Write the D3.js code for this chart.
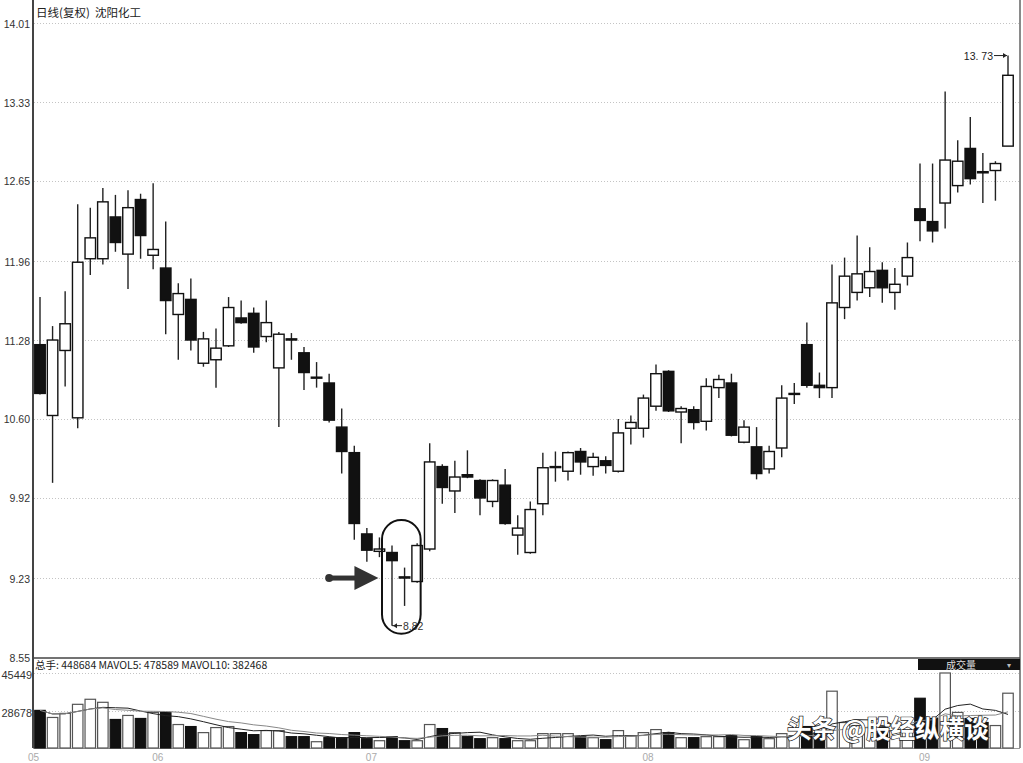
<!DOCTYPE html>
<html><head><meta charset="utf-8">
<script src="https://cdn.jsdelivr.net/npm/d3@7"></script>
<style>body{margin:0;background:#fff;} svg{display:block;}</style>
</head><body>
<svg id="c" width="1023" height="763"></svg>
<script>
// ---------- data ----------
const opens = [11.24,10.63,11.19,10.61,11.98,11.98,12.34,12.02,12.49,12.01,
11.90,11.50,11.63,11.08,11.11,11.23,11.47,11.51,11.31,11.04,
11.29,11.17,10.96,10.91,10.53,10.31,9.61,9.46,9.45,9.24,
9.20,9.48,10.19,9.98,10.12,10.07,9.89,10.03,9.60,9.45,
9.87,10.19,10.15,10.32,10.19,10.24,10.15,10.52,10.52,10.71,
11.01,10.66,10.68,10.58,10.87,10.91,10.40,10.36,10.17,10.35,
10.82,11.24,10.89,10.87,11.56,11.69,11.73,11.88,11.69,11.83,
12.41,12.30,12.46,12.61,12.93,12.73,12.74,12.95];
const closes = [10.82,11.28,11.42,11.95,12.16,12.47,12.12,12.42,12.18,12.06,
11.62,11.68,11.28,11.29,11.21,11.56,11.43,11.22,11.43,11.33,
11.28,11.00,10.96,10.59,10.32,9.70,9.47,9.48,9.38,9.23,
9.51,10.23,10.01,10.10,10.10,9.92,10.07,9.70,9.66,9.82,
10.18,10.19,10.31,10.23,10.27,10.20,10.48,10.57,10.78,10.99,
10.67,10.69,10.57,10.88,10.94,10.46,10.53,10.13,10.32,10.78,
10.82,10.89,10.87,11.60,11.83,11.85,11.87,11.73,11.76,11.99,
12.31,12.22,12.83,12.82,12.67,12.72,12.80,13.56];
const highs = [11.65,11.40,11.70,12.45,12.42,12.59,12.53,12.57,12.54,12.63,
12.30,11.77,11.81,11.35,11.38,11.65,11.62,11.56,11.62,11.35,
11.34,11.22,11.09,10.99,10.69,10.37,9.66,9.58,9.51,9.32,
9.53,10.39,10.21,10.24,10.33,10.08,10.08,10.17,9.77,9.89,
10.31,10.32,10.32,10.35,10.31,10.28,10.60,10.63,10.81,11.07,
11.02,10.71,10.71,10.95,10.98,10.99,10.59,10.53,10.37,10.89,
10.91,11.43,11.00,11.93,11.99,12.18,12.08,11.95,11.90,12.12,
12.80,12.80,13.42,13.00,13.20,12.89,12.82,13.73];
const lows = [10.81,10.05,10.88,10.52,11.84,11.93,12.04,11.72,11.98,11.89,
11.33,11.11,11.19,11.05,10.87,11.22,11.42,11.17,11.26,10.53,
11.11,10.85,10.87,10.57,10.13,9.56,9.37,9.41,8.82,8.99,
9.19,9.46,9.87,9.79,10.09,9.77,9.84,9.69,9.43,9.44,
9.77,10.06,10.07,10.12,10.11,10.13,10.14,10.38,10.44,10.67,
10.66,10.39,10.51,10.50,10.78,10.45,10.39,10.08,10.13,10.27,
10.73,10.87,10.78,10.78,11.46,11.62,11.65,11.60,11.54,11.75,
12.13,12.12,12.24,12.55,12.62,12.46,12.48,12.95];
const volumes = [28948,25826,27610,31624,33854,32516,24934,26718,25380,28056,
28056,22704,21812,19136,21366,21812,19136,18244,20028,20028,
17352,17352,15122,16906,16906,19136,16460,15568,17352,15568,
15568,22704,20920,19136,17352,16460,16906,16460,15568,15568,
18690,18690,18690,17352,16906,16014,20028,17798,19136,20474,
19136,16906,16906,17352,17352,17798,16014,17352,16460,18690,
17798,21812,19136,37422,23596,22258,21366,22258,20028,22258,
34300,25380,45450,28056,25380,23596,22258,36530];
const priceTicks = [14.01,13.33,12.65,11.96,11.28,10.60,9.92,9.23,8.55];
const volTicks = [45449, 28678];
const monthLabels = ["05","06","07","08","09"];
const monthStartIndex = [0, 9, 26, 48, 70];
const titleText = "日线(复权)  沈阳化工";
const volInfoText = "总手: 448684 MAVOL5: 478589 MAVOL10: 382468";
const volPanelName = "成交量";
const watermarkText = "头条 @股经纵横谈";
const highMark = 13.73, lowMark = 8.82;
const highMarkIndex = 77, lowMarkIndex = 28;

// ---------- layout ----------
const svg = d3.select("#c");
const L = 33, R = 1020;
const priceBottom = 658, volBottom = 748;
const n = opens.length;
const x = d3.scalePoint().domain(d3.range(n)).range([40, 1008]);
const bw = 10.5;
const y = d3.scaleLinear().domain([8.55, 13.33]).range([657, 102]);
const yv = d3.scaleLinear().domain([28678, 45449]).range([711, 673]);
const font = "'Liberation Sans', Arial, sans-serif";
const cjk = "'Noto Sans CJK SC', sans-serif";

svg.append("rect").attr("width",1023).attr("height",763).attr("fill","#fff");

// grid
svg.append("g").selectAll("line").data(priceTicks.slice(0,-1)).join("line")
  .attr("x1", L+1).attr("x2", R-1)
  .attr("y1", d=>Math.round(y(d))+0.5).attr("y2", d=>Math.round(y(d))+0.5)
  .attr("stroke","#c4c4c4").attr("stroke-dasharray","1,2");
svg.append("g").selectAll("line").data(volTicks).join("line")
  .attr("x1", L+1).attr("x2", R-1)
  .attr("y1", d=>Math.round(yv(d))+0.5).attr("y2", d=>Math.round(yv(d))+0.5)
  .attr("stroke","#c4c4c4").attr("stroke-dasharray","1,2");

// price axis labels
svg.append("g").selectAll("text").data(priceTicks).join("text")
  .attr("x", 30).attr("y", d=>y(d)+4.5).attr("text-anchor","end")
  .attr("font-family", font).attr("font-size", 10.5).attr("fill","#333")
  .text(d=>d.toFixed(2));
// volume axis labels
svg.append("g").selectAll("text").data(volTicks).join("text")
  .attr("x", 32).attr("y", d=>yv(d)+5.5).attr("text-anchor","end")
  .attr("font-family", font).attr("font-size", 11).attr("fill","#333")
  .text(d=>d);

// frame
svg.append("line").attr("x1",L).attr("x2",L).attr("y1",0).attr("y2",volBottom)
  .attr("stroke","#444").attr("stroke-width",2);
svg.append("line").attr("x1",R).attr("x2",R).attr("y1",0).attr("y2",volBottom)
  .attr("stroke","#8a8a8a").attr("stroke-width",2);
svg.append("line").attr("x1",L).attr("x2",R).attr("y1",priceBottom).attr("y2",priceBottom)
  .attr("stroke","#444").attr("stroke-width",1.5);
svg.append("line").attr("x1",L).attr("x2",R).attr("y1",volBottom+0.5).attr("y2",volBottom+0.5)
  .attr("stroke","#999").attr("stroke-width",1);

// title
svg.append("text").attr("x",36).attr("y",17).attr("font-family",cjk)
  .attr("font-size",11.5).attr("fill","#222").attr("xml:space","preserve").text(titleText);

// candles
const idx = d3.range(n);
const g = svg.append("g");
g.selectAll("line.wick").data(idx).join("line").attr("class","wick")
  .attr("x1", i=>x(i)).attr("x2", i=>x(i))
  .attr("y1", i=>y(highs[i])).attr("y2", i=>y(lows[i]))
  .attr("stroke","#222").attr("stroke-width",1.4);
g.selectAll("rect.body").data(idx).join("rect").attr("class","body")
  .attr("x", i=>x(i)-bw/2).attr("width", bw)
  .attr("y", i=>y(Math.max(opens[i],closes[i])))
  .attr("height", i=>Math.max(1, Math.abs(y(opens[i])-y(closes[i]))))
  .attr("fill", i=> closes[i] >= opens[i] ? "#fff" : "#111")
  .attr("stroke","#111").attr("stroke-width",1.4);

// high mark
const hx = x(highMarkIndex), hy = y(highMark);
svg.append("text").attr("x", hx-15).attr("y", hy+4).attr("text-anchor","end")
  .attr("font-family",font).attr("font-size",10.5).attr("fill","#222").text(highMark.toFixed(2).replace(".", ". "));
svg.append("line").attr("x1",hx-14).attr("x2",hx-1).attr("y1",hy).attr("y2",hy).attr("stroke","#222").attr("stroke-width",1);
svg.append("path").attr("d",`M${hx-1},${hy} l-4,-2.5 l0,5 z`).attr("fill","#222");

// low mark
const lx = x(lowMarkIndex), ly = y(lowMark);
svg.append("line").attr("x1",lx).attr("x2",lx+10).attr("y1",ly).attr("y2",ly).attr("stroke","#222").attr("stroke-width",1);
svg.append("path").attr("d",`M${lx+1},${ly} l4,-2.5 l0,5 z`).attr("fill","#222");
svg.append("text").attr("x", lx+11).attr("y", ly+4)
  .attr("font-family",font).attr("font-size",10.5).attr("fill","#333").text(lowMark.toFixed(2));

// ellipse highlight
const ex0 = x(lowMarkIndex)-10, ex1 = x(lowMarkIndex+2)+3.5;
const ey0 = y(9.73), ey1 = y(8.75);
svg.append("rect").attr("x",ex0).attr("y",ey0).attr("width",ex1-ex0).attr("height",ey1-ey0)
  .attr("rx",(ex1-ex0)/2).attr("ry",(ex1-ex0)/2)
  .attr("fill","none").attr("stroke","#111").attr("stroke-width",2);

// pointing arrow
const ay = y(9.23);
const ax0 = x(lowMarkIndex-5), atip = x(lowMarkIndex-1)-1;
svg.append("circle").attr("cx",ax0).attr("cy",ay).attr("r",4).attr("fill","#333");
svg.append("rect").attr("x",ax0).attr("y",ay-2.5).attr("width",atip-24-ax0+2).attr("height",5).attr("fill","#333");
svg.append("path").attr("d",`M${atip},${ay} L${atip-24},${ay-12} L${atip-24},${ay+12} Z`).attr("fill","#333");

// volume panel
svg.append("text").attr("x",35).attr("y",669).attr("font-family",cjk)
  .attr("font-size",10.5).attr("fill","#222").text(volInfoText);
svg.append("rect").attr("x",918).attr("y",659).attr("width",R-918).attr("height",11).attr("fill","#111");
svg.append("text").attr("x",961).attr("y",668.5).attr("text-anchor","middle").attr("font-family",cjk)
  .attr("font-size",10).attr("fill","#ddd").text(volPanelName);
svg.append("text").attr("x",1009).attr("y",668).attr("text-anchor","middle").attr("font-family",font)
  .attr("font-size",8).attr("fill","#bbb").text("▾");

const gv = svg.append("g");
gv.selectAll("rect").data(idx).join("rect")
  .attr("x", i=>x(i)-bw/2).attr("width", bw)
  .attr("y", i=>yv(volumes[i])).attr("height", i=>volBottom-yv(volumes[i]))
  .attr("fill", i=> closes[i] >= opens[i] ? "#fff" : "#111")
  .attr("stroke", i=> closes[i] >= opens[i] ? "#555" : "#111").attr("stroke-width",1.2);

function ma(k){ return idx.map(i=>{ const s = volumes.slice(Math.max(0,i-k+1), i+1); return d3.mean(s); }); }
const ma5 = ma(5), ma10 = ma(10);
const lineGen = arr => d3.line().x(i=>x(i)).y(i=>yv(arr[i]))(idx);
svg.append("path").attr("d", lineGen(ma5)).attr("fill","none").attr("stroke","#222").attr("stroke-width",1);
svg.append("path").attr("d", lineGen(ma10)).attr("fill","none").attr("stroke","#888").attr("stroke-width",1);

// month labels
svg.append("g").selectAll("text").data(monthLabels).join("text")
  .attr("x",(d,k)=> k===0 ? 28 : x(monthStartIndex[k])-1)
  .attr("y",761).attr("font-family",font).attr("font-size",10).attr("fill","#aaa")
  .text(d=>d);

// watermark
svg.append("text").attr("x",787).attr("y",738).attr("font-family",cjk).attr("font-weight","bold")
  .attr("font-size",24.5).attr("fill","#fff").attr("stroke","#222").attr("stroke-width",1.4)
  .attr("paint-order","stroke").attr("xml:space","preserve").text(watermarkText);
</script>
</body></html>
